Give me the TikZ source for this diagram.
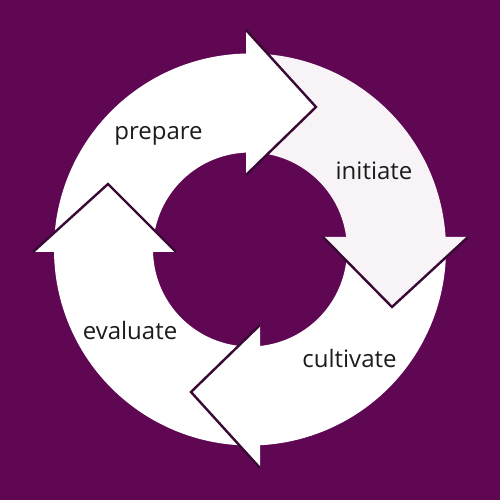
\documentclass[tikz,border=0pt]{standalone}
\usepackage{fontspec}
\setmainfont{Open Sans}
\definecolor{plum}{HTML}{600754}
\definecolor{mist}{HTML}{F7F3F7}
\definecolor{rim}{HTML}{3A0834}
\definecolor{ink}{HTML}{1C1C1C}
\begin{document}
\begin{tikzpicture}[x=1pt,y=1pt,
  headrim/.style={draw=rim,line width=2.4pt,line join=miter},
  label/.style={text=ink,font=\fontsize{24}{26}\selectfont,anchor=base,inner sep=0pt}]
\useasboundingbox (0,0) rectangle (500,500);
\fill[plum] (0,0) rectangle (500,500);
\coordinate (c) at (250,250.5);
% ring segments (bodies), each running from the previous head base to its own head base
\fill[white] ([shift={(c)}]180.73:196) arc[start angle=180.73,end angle=91.17,radius=196]
  -- ([shift={(c)}]92.36:97) arc[start angle=92.36,end angle=181.48,radius=97] -- cycle;
\fill[mist] ([shift={(c)}]91.17:196) arc[start angle=91.17,end angle=3.66,radius=196]
  -- ([shift={(c)}]7.40:97) arc[start angle=7.40,end angle=92.36,radius=97] -- cycle;
\fill[white] ([shift={(c)}]3.66:196) arc[start angle=3.66,end angle=-87.08,radius=196]
  -- ([shift={(c)}]-84.08:97) arc[start angle=-84.08,end angle=7.40,radius=97] -- cycle;
\fill[white] ([shift={(c)}]-87.08:196) arc[start angle=-87.08,end angle=-179.27,radius=196]
  -- ([shift={(c)}]-178.52:97) arc[start angle=-178.52,end angle=-84.08,radius=97] -- cycle;
% arrow heads
\coordinate (pa) at (246,470); \coordinate (pt) at (316,393); \coordinate (pb) at (246,325);
\coordinate (ia) at (468,263); \coordinate (it) at (392,193); \coordinate (ib) at (323,263);
\coordinate (ca) at (260,32);  \coordinate (ct) at (191,108); \coordinate (cb) at (260,175);
\coordinate (ea) at (33,248);  \coordinate (et) at (108,316); \coordinate (eb) at (176,248);
\fill[white] (pa) -- (pt) -- (pb) -- cycle;
\draw[headrim] (pa) -- (pt) -- (pb);
\fill[mist] (ia) -- (it) -- (ib) -- cycle;
\draw[headrim] (ia) -- (it) -- (ib);
\fill[white] (ca) -- (ct) -- (cb) -- cycle;
\draw[headrim] (ca) -- (ct) -- (cb);
\fill[white] (ea) -- (et) -- (eb) -- cycle;
\draw[headrim] (ea) -- (et) -- (eb);
% stage labels
\node[label] (prepare) at (158.5,360) {prepare};
\node[label] (initiate) at (374,320) {initiate};
\node[label] (evaluate) at (130,160.7) {evaluate};
\node[label] (cultivate) at (349.5,132.3) {cultivate};
\end{tikzpicture}
\end{document}
